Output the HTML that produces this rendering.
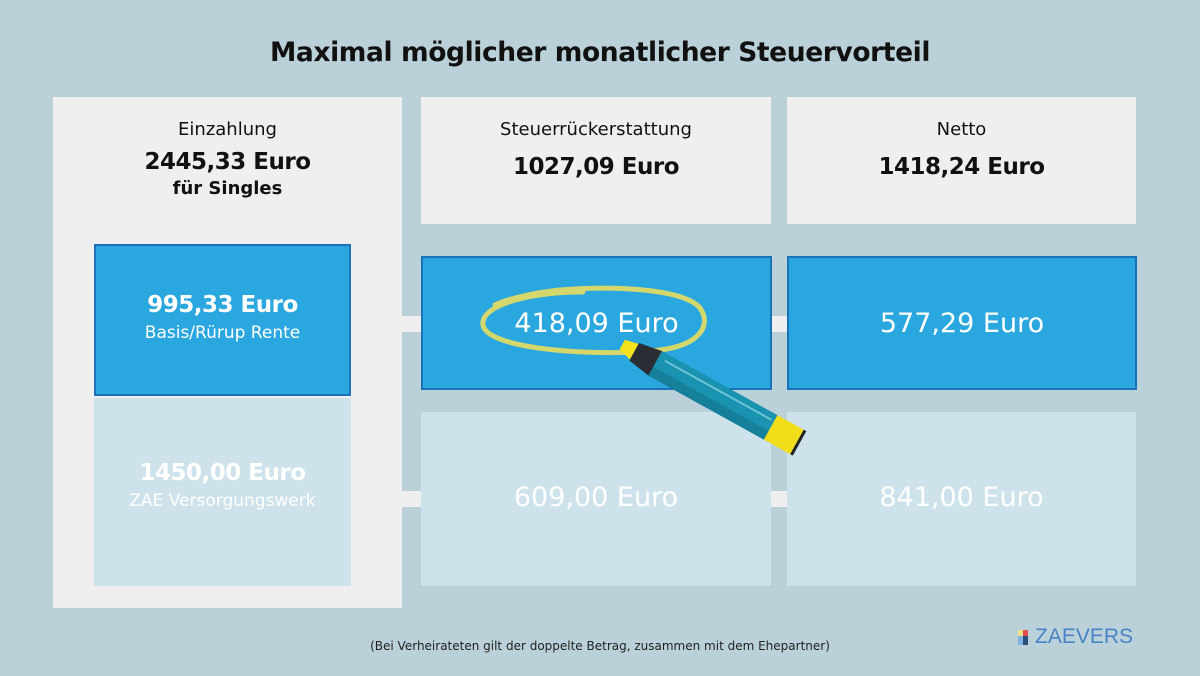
<!DOCTYPE html>
<html><head><meta charset="utf-8"><style>
body{margin:0;width:1200px;height:676px;background:#bad1d9;position:relative;overflow:hidden;font-family:"DejaVu Sans","Liberation Sans",sans-serif;color:#111}
.a{position:absolute;box-sizing:border-box;text-align:center}
.g{background:#efefef}
.b{background:#2ba7e0;border:2px solid #1b72b8;color:#fff}
.l{background:#cee2ec;color:#fff}
.c{background:#efefef;position:absolute}
</style></head><body>
<div class="a" style="left:0;top:37px;width:1200px;font-size:26.5px;font-weight:bold;letter-spacing:-0.4px">Maximal möglicher monatlicher Steuervorteil</div>
<div class="a g" style="left:53px;top:97px;width:349px;height:511px"></div>
<div class="a g" style="left:421px;top:97px;width:350px;height:127px"></div>
<div class="a g" style="left:787px;top:97px;width:349px;height:127px"></div>
<div class="c" style="left:402px;top:316px;width:19px;height:16px"></div>
<div class="c" style="left:771px;top:316px;width:16px;height:16px"></div>
<div class="c" style="left:402px;top:491px;width:19px;height:16px"></div>
<div class="c" style="left:771px;top:491px;width:16px;height:16px"></div>
<div class="a" style="left:53px;top:119px;width:349px;font-size:18px">Einzahlung</div>
<div class="a" style="left:53px;top:149px;width:349px;font-size:23px;font-weight:bold;letter-spacing:-0.5px">2445,33 Euro</div>
<div class="a" style="left:53px;top:178px;width:349px;font-size:18px;font-weight:bold">für Singles</div>
<div class="a" style="left:421px;top:119px;width:350px;font-size:18px">Steuerrückerstattung</div>
<div class="a" style="left:421px;top:154px;width:350px;font-size:23px;font-weight:bold;letter-spacing:-0.5px">1027,09 Euro</div>
<div class="a" style="left:787px;top:119px;width:349px;font-size:18px">Netto</div>
<div class="a" style="left:787px;top:154px;width:349px;font-size:23px;font-weight:bold;letter-spacing:-0.5px">1418,24 Euro</div>
<div class="a b" style="left:94px;top:244px;width:257px;height:152px;padding-top:46px"><div style="font-size:23px;font-weight:bold;letter-spacing:-0.5px">995,33 Euro</div><div style="font-size:17px;margin-top:5px">Basis/Rürup Rente</div></div>
<div class="a l" style="left:94px;top:398px;width:257px;height:188px;padding-top:62px"><div style="font-size:23px;font-weight:bold;letter-spacing:-0.5px">1450,00 Euro</div><div style="font-size:17px;margin-top:5px">ZAE Versorgungswerk</div></div>
<div class="a b" style="left:421px;top:256px;width:351px;height:134px;padding-top:50px;font-size:27px">418,09 Euro</div>
<div class="a b" style="left:787px;top:256px;width:350px;height:134px;padding-top:50px;font-size:27px">577,29 Euro</div>
<div class="a l" style="left:421px;top:412px;width:350px;height:174px;padding-top:70px;font-size:27px">609,00 Euro</div>
<div class="a l" style="left:787px;top:412px;width:349px;height:174px;padding-top:70px;font-size:27px">841,00 Euro</div>
<svg style="position:absolute;left:0;top:0" width="1200" height="676">
<path d="M583,292 C530,292 480,305 483,325 C487,350 600,357 660,350 C700,345 712,325 700,308 C685,290 620,285 560,290 C530,293 505,300 495,305" fill="none" stroke="#d4d86c" stroke-width="5" stroke-linecap="round"/>
<g transform="translate(622,345) rotate(29)">
<polygon points="0,-6 14,-9 14,9 0,5" fill="#f5e21c"/>
<polygon points="14,-10 38,-14 38,14 14,10" fill="#2a2d33"/>
<rect x="38" y="-14" width="132" height="28" fill="#1a93b0"/>
<rect x="38" y="4" width="132" height="10" fill="#16809a"/>
<rect x="45" y="-8" width="122" height="2" fill="#6cc3d6"/>
<rect x="170" y="-14" width="30" height="28" fill="#f2dd1a"/>
<rect x="200" y="-14" width="3" height="28" fill="#222"/>
</g>
<rect x="1018" y="630" width="5" height="6" fill="#f1e08a"/><rect x="1023" y="630" width="5" height="6" fill="#e05050"/>
<rect x="1018" y="636" width="5" height="9" fill="#7fb4e0"/><rect x="1023" y="636" width="5" height="9" fill="#2c4f7a"/>
</svg>
<div class="a" style="left:1035px;top:625px;font-size:21px;color:#4a84c6;text-align:left;font-family:'Liberation Sans',sans-serif">ZAEVERS</div>
<div class="a" style="left:300px;top:639px;width:600px;font-size:12px;color:#222">(Bei Verheirateten gilt der doppelte Betrag, zusammen mit dem Ehepartner)</div>
</body></html>
